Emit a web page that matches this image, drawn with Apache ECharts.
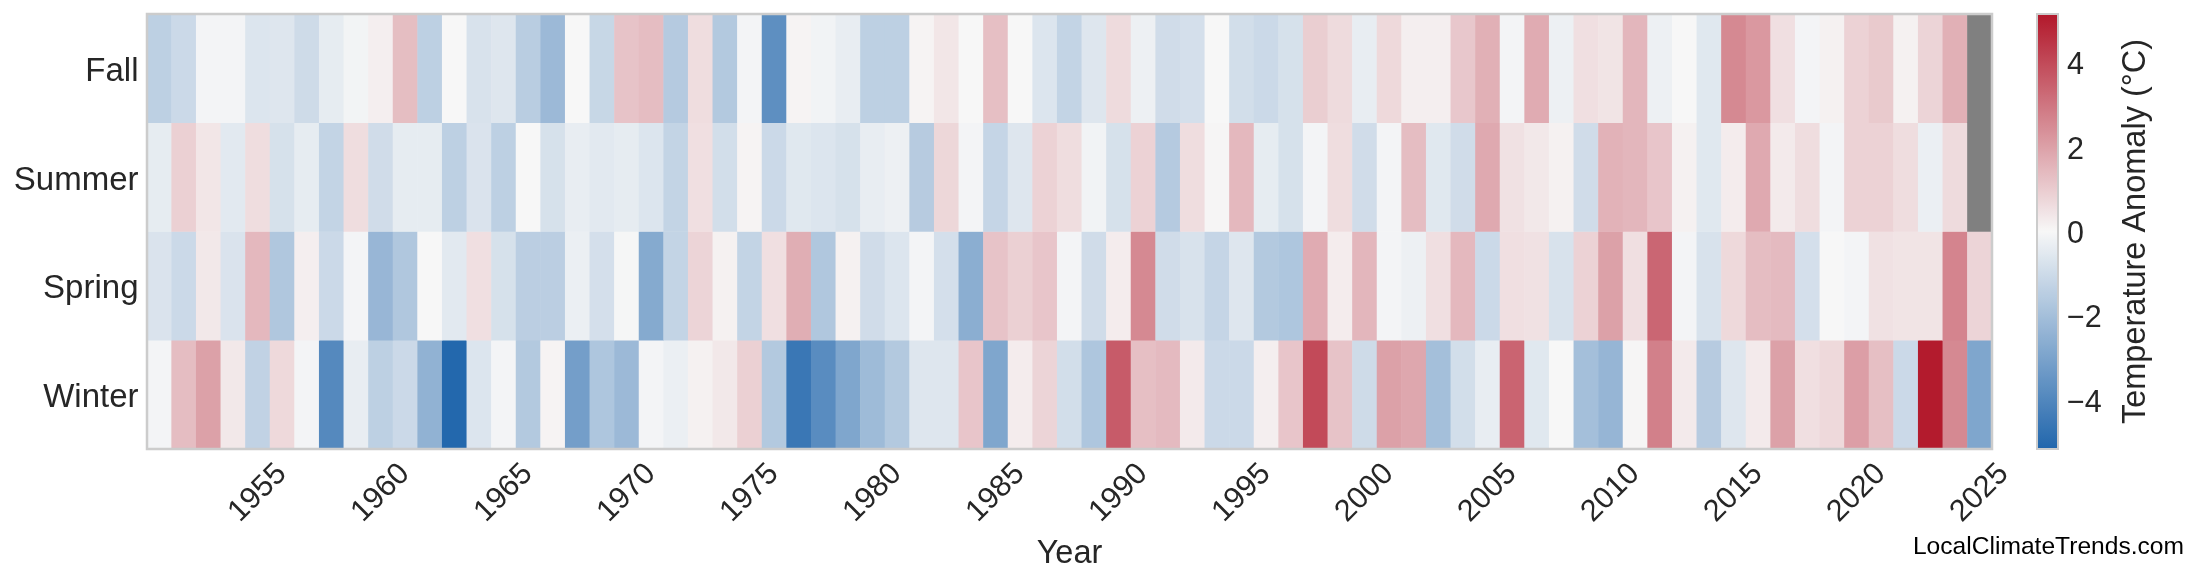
<!DOCTYPE html>
<html>
<head>
<meta charset="utf-8">
<script src="https://cdn.jsdelivr.net/npm/echarts@6/dist/echarts.min.js"></script>
<style>
html,body{margin:0;padding:0;background:#fff;}
#chart{width:2200px;height:585px;}
</style>
</head>
<body>
<div id="chart"></div>
<script>
const years = ['1951','1952','1953','1954','1955','1956','1957','1958','1959','1960',
'1961','1962','1963','1964','1965','1966','1967','1968','1969','1970',
'1971','1972','1973','1974','1975','1976','1977','1978','1979','1980',
'1981','1982','1983','1984','1985','1986','1987','1988','1989','1990',
'1991','1992','1993','1994','1995','1996','1997','1998','1999','2000',
'2001','2002','2003','2004','2005','2006','2007','2008','2009','2010',
'2011','2012','2013','2014','2015','2016','2017','2018','2019','2020',
'2021','2022','2023','2024','2025'];
const seasons = ['Winter','Spring','Summer','Fall'];

const winter = [-0.1,1.35,2.0,0.35,-1.3,0.7,-0.1,-3.9,-0.35,-1.4,
-1.05,-2.45,-5.1,-0.65,-0.1,-1.65,0.1,-3.15,-1.75,-2.2,
-0.1,-0.3,0.15,0.35,0.9,-1.65,-4.55,-3.8,-2.9,-2.15,
-1.65,-0.6,-0.6,1.15,-2.9,0.25,0.8,-0.9,-1.75,3.6,
1.3,1.4,0.3,-1.05,-1.05,0.2,1.15,4.0,1.2,-1.0,
2.0,1.85,-2.0,-0.9,-0.35,3.4,-0.55,0,-2.0,-2.35,
0.05,2.75,0.3,-1.55,-0.6,0.3,2.0,0.55,0.7,2.05,
1.3,-1.05,5.1,2.55,-2.9];
const spring = [-0.7,-1.05,0.35,-0.7,1.45,-1.7,0.2,-1.05,-0.1,-2.3,
-1.7,0,-0.5,0.55,-0.8,-1.45,-1.45,-0.3,-0.85,-0.05,
-2.75,-1.25,0.8,0.15,-1.25,0.55,1.7,-1.7,0.15,-0.95,
-0.65,-0.1,-0.85,-2.6,1.2,0.9,1.15,-0.1,-0.95,0.25,
2.55,-0.95,-0.75,-1.2,-0.6,-1.65,-1.75,1.75,0.25,1.5,
-0.1,-0.25,0.55,1.45,-1.05,0.55,0.5,-0.75,0.85,2.0,
0.55,3.35,-0.1,-0.75,0.7,1.35,1.4,-0.85,0,-0.1,
0.5,0.45,0.45,2.65,0.8];
const summer = [-0.4,0.9,0.4,-0.5,0.6,-0.8,-0.4,-1.25,0.6,-0.95,
-0.4,-0.4,-1.4,-0.7,-1.4,0,-0.8,-0.35,-0.5,-0.4,
-0.65,-1.25,0.55,-0.9,0.1,-1.05,-0.55,-0.65,-0.8,-0.35,
-0.25,-1.55,0.75,-0.1,-1.2,-0.6,0.85,0.6,-0.15,-0.8,
0.85,-1.6,0.6,0.05,1.45,-0.4,-0.8,-0.1,0.6,-0.95,
-0.1,1.35,-0.55,-0.95,1.8,0.5,0.35,0.15,-0.95,1.6,
1.5,1.15,0.15,-0.55,0.25,1.8,0.3,0.6,-0.1,0.85,
0.85,0.6,-0.3,0.65,null];
const fall = [-1.4,-1.05,-0.1,-0.1,-0.65,-0.6,-1.0,-0.4,-0.12,0.2,
1.33,-1.4,0,-0.75,-0.6,-1.5,-2.2,0,-1.15,1.2,
1.35,-1.6,0.6,-1.65,-0.1,-3.7,0.1,-0.15,-0.35,-1.4,
-1.4,0.1,0.4,0,1.3,0,-0.65,-1.25,-0.6,0.65,
-0.25,-0.95,-0.85,0,-0.9,-1.05,-0.8,0.95,0.65,-0.35,
0.7,0.2,0.2,1.1,1.65,-0.1,1.75,-0.25,0.55,0.45,
1.5,-0.25,0,-0.55,2.55,2.2,0.55,-0.1,0.15,0.85,
1.05,0.15,0.8,1.65,null];
const colorbarTicks = [-4,-2,0,2,4];
const colorLimit = 5.16;

const rows = [winter, spring, summer, fall];
const heatData = [];
const missingData = [];
rows.forEach((arr, yi) => {
  arr.forEach((v, xi) => {
    if (v === null) missingData.push([xi, yi, 0]);
    else heatData.push([xi, yi, v]);
  });
});

const FONT = 'Liberation Sans, Arial, Helvetica, sans-serif';
const TXT = '#262626';
const chart = echarts.init(document.getElementById('chart'), null, {renderer:'canvas'});
chart.setOption({
  backgroundColor:'#ffffff',
  animation:false,
  grid:[
    {left:147, top:14, width:1845, height:435, show:true, borderColor:'#cccccc', borderWidth:2.5, backgroundColor:'transparent', z:10, outerBoundsMode:'none'},
    {left:2037, top:14, width:21, height:435, show:true, borderColor:'#cccccc', borderWidth:2, backgroundColor:'transparent', z:10, outerBoundsMode:'none'}
  ],
  xAxis:[
    {type:'category', gridIndex:0, data:years, boundaryGap:true,
     axisLine:{show:false}, axisTick:{show:false}, splitLine:{show:false},
     axisLabel:{interval:(i, v) => (+v) % 5 === 0, rotate:45, align:'center', verticalAlign:'middle', margin:44,
       fontSize:30.5, fontFamily:FONT, color:TXT},
     name:'Year', nameLocation:'middle', nameGap:89,
     nameTextStyle:{fontSize:32.5, fontFamily:FONT, color:TXT}},
    {type:'value', gridIndex:1, show:false, min:0, max:1}
  ],
  yAxis:[
    {type:'category', gridIndex:0, data:seasons, boundaryGap:true,
     axisLine:{show:false}, axisTick:{show:false}, splitLine:{show:false},
     axisLabel:{margin:8.5, fontSize:33, fontFamily:FONT, color:TXT,
       formatter:(v) => '{a|' + v + '}',
       rich:{a:{fontSize:33, fontFamily:FONT, color:TXT, padding:[7,0,0,0]}}}},
    {type:'value', gridIndex:1, position:'right', min:-colorLimit, max:colorLimit,
     axisLine:{show:false}, axisTick:{show:false}, splitLine:{show:false},
     axisLabel:{customValues:colorbarTicks, margin:9, fontSize:30.5, fontFamily:FONT, color:TXT,
       formatter:(v) => '{a|' + String(v).replace('-', '\u2212') + '}',
       rich:{a:{fontSize:30.5, fontFamily:FONT, color:TXT, padding:[6,0,0,0]}}},
     name:'Temperature Anomaly (°C)', nameLocation:'middle', nameRotate:90, nameGap:62,
     nameTextStyle:{fontSize:32.5, fontFamily:FONT, color:TXT}}
  ],
  visualMap:{
    type:'continuous', min:-colorLimit, max:colorLimit, seriesIndex:0,
    orient:'vertical', left:2037, top:14, itemWidth:21, itemHeight:435,
    padding:0, calculable:false, showLabel:false, text:null, hoverLink:false,
    inRange:{color:['#2166ac','#f7f7f7','#b2182b']}
  },
  graphic:[
    {type:'text', right:16, top:535, style:{text:'LocalClimateTrends.com', font:'24.6px ' + FONT, fill:'#000000'}}
  ],
  series:[
    {type:'heatmap', xAxisIndex:0, yAxisIndex:0, data:heatData, emphasis:{disabled:true}, progressive:0},
    {type:'heatmap', xAxisIndex:0, yAxisIndex:0, data:missingData, itemStyle:{color:'#808080'}, emphasis:{disabled:true}}
  ]
});
</script>
</body>
</html>
